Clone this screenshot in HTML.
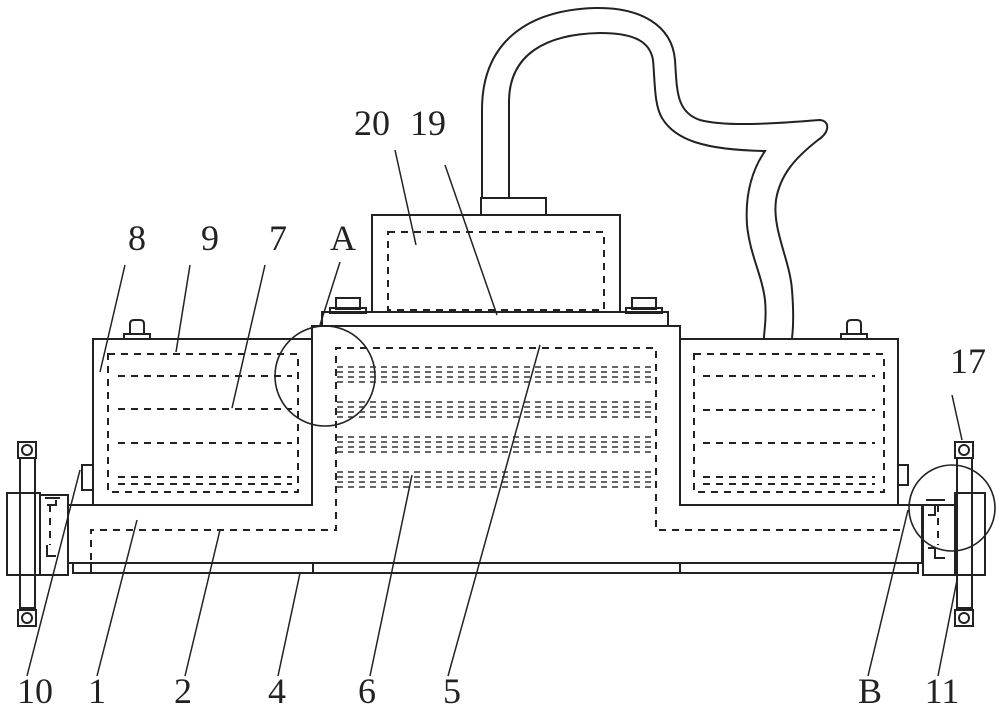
<!DOCTYPE html>
<html><head><style>
html,body{margin:0;padding:0;background:#fff;}
svg{display:block;}
text{font-family:"Liberation Serif",serif;font-size:36px;fill:#222;}
</style></head><body>
<svg width="1000" height="711" viewBox="0 0 1000 711" xmlns="http://www.w3.org/2000/svg">
<g fill="none" stroke="#222" stroke-width="2">
<!-- hose -->
<path d="M482,198 L482,110 C482,40 530,10 595,8 C640,7 672,25 675,60 C677,90 676,112 700,120 C730,128 790,122 820,120 C830,121 830,132 818,140 C795,158 780,175 776,200 C772,230 790,260 792,290 C794,315 793,330 792,338"/>
<path d="M509,198 L509,100 C510,55 545,34 600,33 C635,33 650,42 653,60 C655,80 654,105 662,118 C675,140 705,150 765,151 C752,170 745,195 747,225 C750,255 762,275 765,300 C767,320 764,330 764,338"/>
<rect x="481" y="198" width="65" height="17"/>
<!-- top box -->
<rect x="372" y="215" width="248" height="97"/>
<rect x="322" y="312" width="346" height="14"/>
<!-- bolts -->
<rect x="330" y="308" width="36" height="5"/><rect x="336" y="298" width="24" height="11"/>
<rect x="626" y="308" width="36" height="5"/><rect x="632" y="298" width="24" height="11"/>
<rect x="124" y="334" width="26" height="5"/><path d="M130,334 V324 Q130,320 134,320 H140 Q144,320 144,324 V334"/>
<rect x="841" y="334" width="26" height="5"/><path d="M847,334 V324 Q847,320 851,320 H857 Q861,320 861,324 V334"/>
<!-- main body -->
<path d="M68,505 H93 V339 H312 V326 H680 V339 H898 V505 H922 V563 H68 Z"/>
<path d="M93,505 H312 V326 M680,326 V505 H898"/>
<rect x="73" y="563" width="845" height="10"/>
<line x1="91" y1="563" x2="91" y2="573"/><line x1="313" y1="563" x2="313" y2="573"/><line x1="680" y1="563" x2="680" y2="573"/>
<!-- small knobs -->
<rect x="82" y="465" width="11" height="25"/><rect x="898" y="465" width="10" height="20"/>
<!-- left clamp -->
<rect x="7" y="493" width="33" height="82"/>
<rect x="40" y="495" width="28" height="80"/>
<rect x="20" y="458" width="15" height="150"/>
<rect x="18" y="442" width="18" height="16"/><circle cx="27" cy="450" r="5"/>
<rect x="18" y="610" width="18" height="16"/><circle cx="27" cy="618" r="5"/>
<path d="M47,505 H56 V500 M45,498 H60 M47,545 V556 H56"/>
<!-- right clamp -->
<rect x="955" y="493" width="30" height="82"/>
<rect x="923" y="505" width="32" height="70"/>
<rect x="957" y="458" width="15" height="150"/>
<rect x="955" y="442" width="18" height="16"/><circle cx="964" cy="450" r="5"/>
<rect x="955" y="610" width="18" height="16"/><circle cx="964" cy="618" r="5"/>
<path d="M945,505 H935 V515 H928 M945,558 H935 V548 H928 M926,500 H945"/>
<!-- circles -->
<circle cx="325" cy="376" r="50" stroke-width="1.6"/>
<circle cx="952" cy="508" r="43" stroke-width="1.6"/>
</g>
<g fill="none" stroke="#222" stroke-width="2" stroke-dasharray="7,6">
<rect x="388" y="232" width="216" height="78"/>
<rect x="108" y="354" width="190" height="138"/>
<rect x="694" y="354" width="190" height="138"/>
<path d="M91,560 V530 H336 V348 H656 V530 H900"/>
<path d="M118,376 H292 M118,409 H292 M118,443 H292 M118,477 H292 M118,484 H292"/>
<path d="M703,376 H875 M703,410 H875 M703,443 H875 M703,477 H875 M703,484 H875"/>
<path d="M938,505 V545 M50,505 V545"/>
</g>
<g fill="none" stroke="#333" stroke-width="1.6" stroke-dasharray="6,5">
<path d="M337,367 H655 M337,372 H655 M337,377 H655 M337,382 H655"/>
<path d="M337,402 H655 M337,407 H655 M337,412 H655 M337,417 H655"/>
<path d="M337,437 H655 M337,442 H655 M337,447 H655 M337,452 H655"/>
<path d="M337,472 H655 M337,477 H655 M337,482 H655 M337,487 H655"/>
</g>
<!-- leaders -->
<g stroke="#222" stroke-width="1.5">
<line x1="395" y1="150" x2="416" y2="245"/>
<line x1="445" y1="165" x2="497" y2="315"/>
<line x1="125" y1="265" x2="100" y2="372"/>
<line x1="190" y1="265" x2="176" y2="352"/>
<line x1="265" y1="265" x2="232" y2="408"/>
<line x1="340" y1="262" x2="320" y2="325"/>
<line x1="952" y1="395" x2="962" y2="440"/>
<line x1="27" y1="676" x2="80" y2="470"/>
<line x1="97" y1="676" x2="137" y2="520"/>
<line x1="185" y1="676" x2="220" y2="530"/>
<line x1="278" y1="676" x2="300" y2="573"/>
<line x1="370" y1="676" x2="412" y2="475"/>
<line x1="448" y1="676" x2="540" y2="345"/>
<line x1="868" y1="676" x2="908" y2="510"/>
<line x1="938" y1="676" x2="957" y2="580"/>
</g>
<g text-anchor="middle">
<text x="372" y="135">20</text><text x="428" y="135">19</text>
<text x="137" y="250">8</text><text x="210" y="250">9</text><text x="278" y="250">7</text><text x="343" y="250">A</text>
<text x="968" y="373">17</text>
<text x="35" y="703">10</text><text x="97" y="703">1</text><text x="183" y="703">2</text><text x="277" y="703">4</text>
<text x="367" y="703">6</text><text x="452" y="703">5</text><text x="870" y="703">B</text><text x="942" y="703">11</text>
</g>
</svg>
</body></html>
